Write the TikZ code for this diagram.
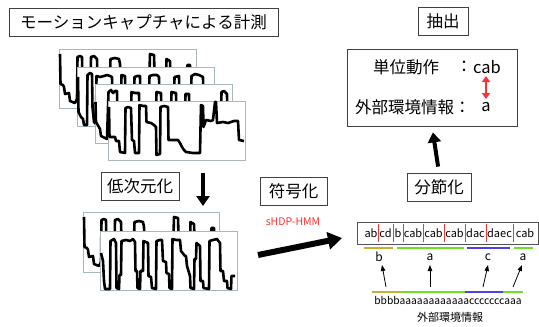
\documentclass[tikz,border=0pt]{standalone}
\usepackage{fontspec}
\setmainfont{Noto Sans CJK JP}
\usetikzlibrary{arrows.meta}
\definecolor{panelc}{HTML}{A8B6BE}
\definecolor{boxc}{HTML}{404040}
\definecolor{myred}{HTML}{FF3030}
\definecolor{myyellow}{HTML}{C8B030}
\definecolor{mygreen}{HTML}{6CE022}
\definecolor{myblue}{HTML}{5040E8}
\tikzset{
  labelbox/.style={draw=boxc,line width=0.9pt,inner sep=0pt,minimum height=28pt,font=\fontsize{16.5}{18}\selectfont},
  bigtext/.style={inner sep=0pt,font=\fontsize{16.5}{18}\selectfont},
  paneledge/.style={draw=panelc,fill=white,line width=0.9pt},
  wave/.style={line width=2.6pt,line join=round,black},
  fatarrow/.style={line width=4pt,-{Triangle[width=13pt,length=10pt]}},
  seqtext/.style={inner sep=0pt,font=\fontsize{11}{12}\selectfont},
  divider/.style={myred,line width=1pt},
  thinarrow/.style={line width=0.8pt,-{Triangle[width=4.5pt,length=6pt]}},
  uline/.style={line width=1.5pt}
}
\newcommand{\wavea}{(1,5) (1.5,35) (4,36) (5,38) (6,45) (10,44) (11,52) (16,54) (18,50) (18.5,8) (21,7) (23,8) (23.5,40) (30,42) (31.5,40) (32,8) (35,7) (38,10) (38.5,30) (45,30) (51,28) (51.5,10) (56,9) (60,10) (61,15) (62,40) (90,42) (91,5) (95,6) (96,40) (107,40) (107.5,10) (111,12) (112,40) (128,40) (128.5,16) (131,16) (131.5,40) (137,40)}
\begin{document}
\begin{tikzpicture}[x=1pt,y=-1pt]
\useasboundingbox (0,0) rectangle (539,327);
% title
\node[labelbox,minimum width=269pt] (title) at (143.5,22) {モーションキャプチャによる計測};
% stacked panels
\begin{scope}[shift={(59,49)}]
  \draw[paneledge] (0,0) rectangle (137,59);
  \draw[wave] plot coordinates {\wavea};
\end{scope}
\begin{scope}[shift={(77,67)}]
  \draw[paneledge] (0,0) rectangle (137,59);
  \draw[wave] plot coordinates {(1,10) (1.5,45) (4,50) (6,52) (7,58) (10,58) (10.5,8) (13,6) (15,7) (15.5,40) (17,55) (19,57) (19.5,9) (23,10) (27,9) (30,8) (33,9) (35,10) (35.5,35) (44,40) (44.5,8) (48,9) (48.5,40) (57,40) (57.5,10) (60,9) (63,9) (63.5,40) (72,38) (72.5,9) (76,8) (80,8) (82,10) (82.5,40) (97,40) (97.5,10) (102,9) (102.5,40) (114,40) (114.5,9) (118,7) (122,8) (126,10) (126.5,40) (137,42)};
\end{scope}
\begin{scope}[shift={(95,84)}]
  \draw[paneledge] (0,0) rectangle (137,59);
  \draw[wave] plot coordinates {(0.5,18) (1,38) (5,45) (6,52) (12,55) (13.5,8) (16,6) (18,9) (20,7) (22,7) (22.5,40) (36,40) (36.5,8) (40,9) (44,9) (44.5,40) (61,40) (61.5,8) (66,9) (66.5,40) (76,40) (76.5,8) (81,9) (81.5,40) (90,40) (90.5,10) (94,10) (94.5,40) (126,40) (126.5,8) (129,7) (132,10) (132.5,40) (137,40)};
\end{scope}
\begin{scope}[shift={(108,101)}]
  \draw[paneledge] (0,0) rectangle (137,59);
  \draw[wave] plot coordinates {(1,6) (1.5,36) (7,36) (8,40) (11,40) (12,51) (17,52) (17.5,7) (20,6) (23,7) (24,39) (26,40) (27,52) (31,52) (31.5,4) (35,5) (38,5) (38.5,21) (43,22) (46,24) (48,26) (48.5,54) (52,53) (52.5,6) (56,5) (60,6) (60.5,39) (70,39) (72,42) (74,46) (76,49) (78,51) (85,52) (92,52) (93,4) (95,5) (95.5,26) (98,19) (103,20) (105,19) (107,1) (108,1) (109,22) (115,21) (120,22) (126,20) (130,20) (131,39) (136,40)};
\end{scope}
% lower panels
\begin{scope}[shift={(83,212)}]
  \draw[paneledge] (0,0) rectangle (136,60);
  \draw[wave] plot coordinates {\wavea};
\end{scope}
\begin{scope}[shift={(100,231)}]
  \draw[paneledge] (0,0) rectangle (137,59);
  \draw[wave] plot coordinates {(1,22) (3,30) (4,50) (5,58) (10,58) (10.5,10) (14,8) (16,12) (16.5,57) (19,58) (19.5,44) (21,44) (21.5,10) (26,9) (30,10) (33,8) (35,11) (35.5,40) (37,40) (37.5,57) (40,58) (40.5,40) (43,40) (43.5,10) (48,12) (48.5,45) (51,46) (52,57) (56,58) (56.5,10) (60,9) (62,9) (63,30) (66,31) (66.5,42) (69,43) (69.5,57) (72,58) (72.5,8) (76,9) (80,9) (81,20) (85,25) (86,25) (87,35) (90,45) (90.5,57) (94,58) (94.5,28) (96,28) (96.5,12) (100,15) (100.5,50) (103,50) (103.5,57) (109,58) (109.5,10) (113,9) (117,8) (120,12) (120.5,40) (123,40) (124,50) (127,50) (127.5,57) (131,58) (131.5,45) (135,45)};
\end{scope}
% step labels
\node[labelbox,minimum width=78pt] (dimred) at (140,186) {低次元化};
\node[labelbox,minimum width=67pt] (encode) at (293.5,191) {符号化};
\node[inner sep=0pt,text=myred,font=\fontsize{10.5}{12}\selectfont] (hmm) at (293,222) {sHDP-HMM};
\node[labelbox,minimum width=50pt] (extract) at (443,21) {抽出};
\node[labelbox,minimum width=64pt] (segment) at (439,187) {分節化};
% big box
\node[draw=boxc,line width=0.9pt,minimum width=170pt,minimum height=77pt,inner sep=0pt] (bigbox) at (432,87.5) {};
\node[bigtext] (unit) at (406,67) {単位動作};
\node[bigtext] (colon) at (464,67) {：};
\node[bigtext] (cab) at (487,67) {cab};
\node[bigtext,anchor=west] (env) at (355,107) {外部環境情報：};
\node[bigtext] (aa) at (486,107) {a};
\coordinate (r1) at (486,76);
\coordinate (r2) at (486,99);
\draw[myred,line width=2pt,{Triangle[width=8pt,length=6pt]}-{Triangle[width=8pt,length=6pt]}] (r1) -- (r2);
% arrows
\coordinate (d1) at (203,173);
\coordinate (d2) at (203,206);
\draw[fatarrow] (d1) -- (d2);
\draw[fatarrow,shorten <=6pt,shorten >=6pt] (segment.north) -- (bigbox.south);
\coordinate (g1) at (258,255);
\coordinate (g2) at (342,238);
\draw[line width=6pt,-{Triangle[width=17pt,length=14pt]}] (g1) -- (g2);
% sequence box
\node[draw=boxc!90,line width=0.9pt,minimum width=181pt,minimum height=22pt,inner sep=0pt] (seq) at (447.5,233) {};
\foreach \xx in {378,393,403,423,444,465,486,513}{
  \draw[divider] (\xx,224) -- (\xx,242);
}
\node[seqtext] (s1) at (371,233) {ab};
\node[seqtext] (s2) at (385.5,233) {cd};
\node[seqtext] (s3) at (398,233) {b};
\node[seqtext] (s4) at (413,233) {cab};
\node[seqtext] (s5) at (433.5,233) {cab};
\node[seqtext] (s6) at (454.5,233) {cab};
\node[seqtext] (s7) at (475.5,233) {dac};
\node[seqtext] (s8) at (499.5,233) {daec};
\node[seqtext] (s9) at (525,233) {cab};
% underlines
\draw[uline,myyellow] (364,248) -- (393,248);
\draw[uline,mygreen] (397,248) -- (464,248);
\draw[uline,myblue] (467,248) -- (510,248);
\draw[uline,mygreen] (514,248) -- (533,248);
\node[seqtext,font=\fontsize{12}{13}\selectfont] (lb) at (379,257) {b};
\node[seqtext,font=\fontsize{12}{13}\selectfont] (la) at (430,257) {a};
\node[seqtext,font=\fontsize{12}{13}\selectfont] (lc) at (488,257) {c};
\node[seqtext,font=\fontsize{12}{13}\selectfont] (la2) at (523,257) {a};
% bottom line
\draw[uline,myyellow] (372,292) -- (401,292);
\draw[uline,mygreen] (401,292) -- (465,292);
\draw[uline,myblue] (465,292) -- (503,292);
\draw[uline,mygreen] (503,292) -- (523,292);
\coordinate (p1) at (386,287);
\coordinate (q1) at (382,265);
\coordinate (p2) at (430,287);
\coordinate (q2) at (430,265);
\coordinate (p3) at (483,287);
\coordinate (q3) at (488,265);
\coordinate (p4) at (513,287);
\coordinate (q4) at (522,265);
\draw[thinarrow] (p1) -- (q1);
\draw[thinarrow] (p2) -- (q2);
\draw[thinarrow] (p3) -- (q3);
\draw[thinarrow] (p4) -- (q4);
\node[inner sep=0pt,font=\fontsize{10.3}{11}\selectfont] (str) at (448,300) {bbbbaaaaaaaaaaaacccccccaaa};
\node[inner sep=0pt,font=\fontsize{11}{12}\selectfont] (envlab) at (450,317) {外部環境情報};
\end{tikzpicture}
\end{document}
